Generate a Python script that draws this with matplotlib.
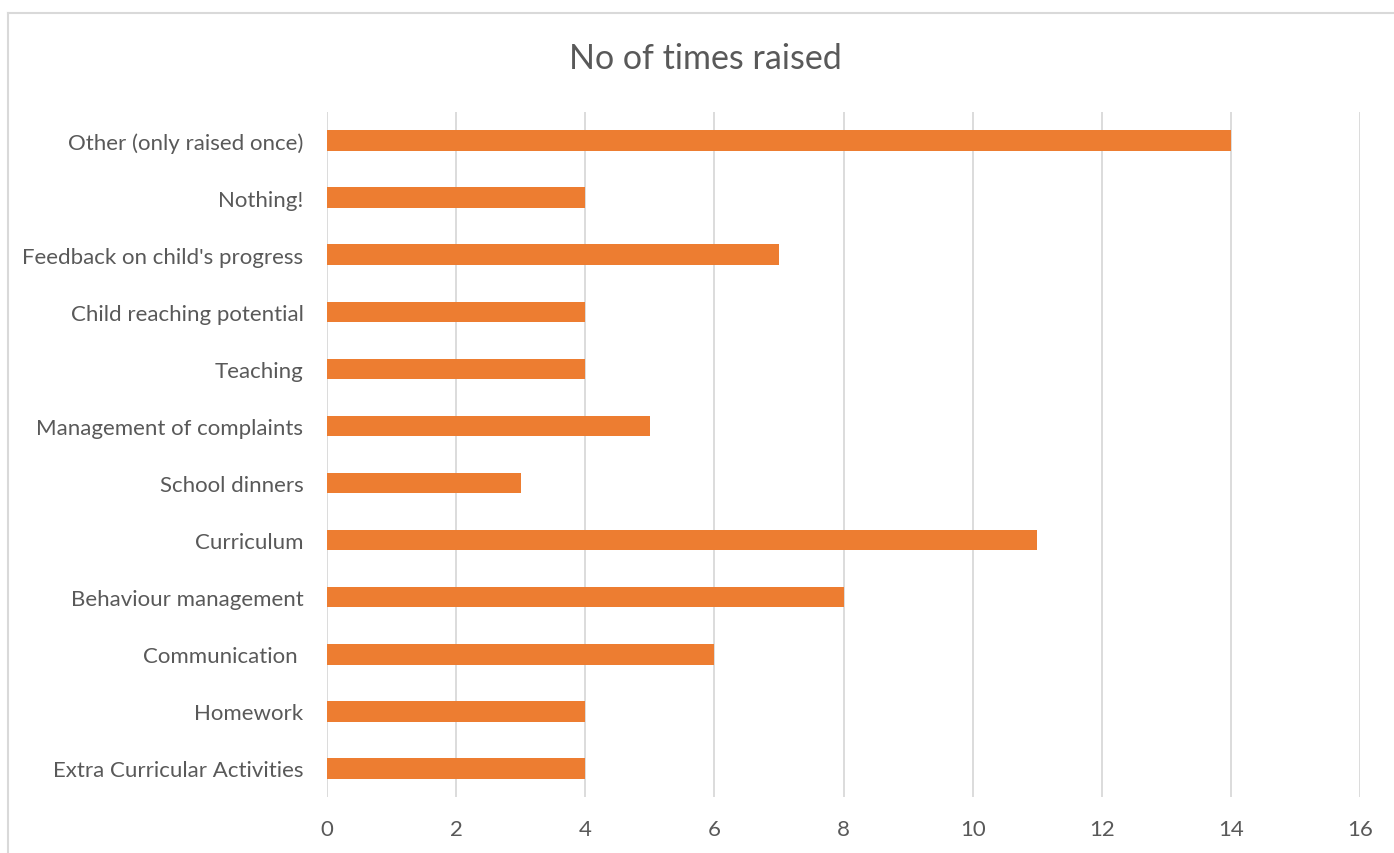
import matplotlib
matplotlib.use("Agg")
import matplotlib.pyplot as plt
from matplotlib.lines import Line2D

categories = ["Extra Curricular Activities", "Homework", "Communication ",
              "Behaviour management", "Curriculum", "School dinners",
              "Management of complaints", "Teaching", "Child reaching potential",
              "Feedback on child's progress", "Nothing!", "Other (only raised once)"]
counts = [4, 4, 6, 8, 11, 3, 5, 4, 4, 7, 4, 14]
xticks = [0, 2, 4, 6, 8, 10, 12, 14, 16]

text_col = "#595959"
plt.rcParams['font.family'] = ['Lato', 'DejaVu Sans']

fig = plt.figure(figsize=(13.94, 8.54), dpi=100)
ax = fig.add_axes([327/1394, 1 - 798/854, (1360 - 327)/1394, (798 - 113)/854])

ax.barh(range(len(categories)), counts, height=0.36, color="#ED7D31", zorder=3)
ax.set_xlim(0, 16)
ax.set_ylim(-0.5, len(categories) - 0.5)
ax.set_xticks(xticks)
ax.set_yticks(range(len(categories)))
ax.set_yticklabels(categories)
ax.grid(axis="x", color="#D9D9D9", linewidth=1.3, zorder=0)
for s in ax.spines.values():
    s.set_visible(False)
ax.tick_params(axis="both", length=0, labelsize=16, labelcolor=text_col)
ax.tick_params(axis="y", pad=17)
ax.tick_params(axis="x", pad=16)

fig.text(705/1394, 1 - 59/854, "No of times raised", ha="center", va="center",
         fontsize=24.5, color=text_col)

# chart border (cropped on right/bottom)
fig.add_artist(Line2D([8/1394, 8/1394], [0, 1 - 14/854], color="#D9D9D9", linewidth=1.5))
fig.add_artist(Line2D([8/1394, 1], [1 - 14/854, 1 - 14/854], color="#D9D9D9", linewidth=1.5))

fig.savefig("out.png", dpi=100)
